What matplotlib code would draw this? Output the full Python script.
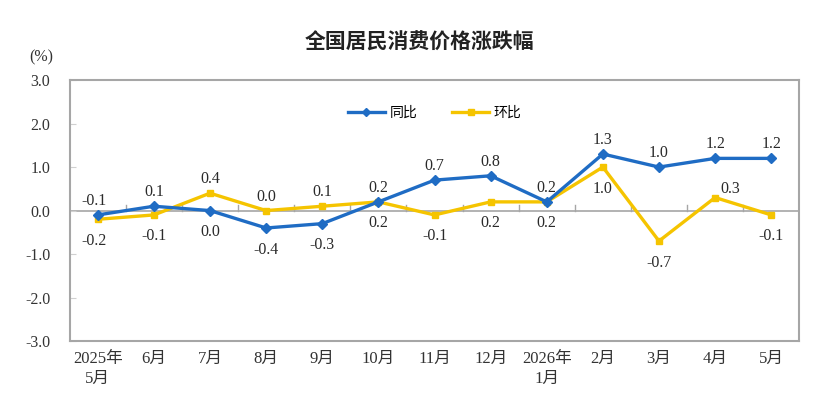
import numpy as np
import matplotlib.pyplot as plt

plt.rcParams['font.family'] = ['Liberation Serif', 'Noto Sans CJK SC']

months = ["2025年\n5月", "6月", "7月", "8月", "9月", "10月", "11月", "12月",
          "2026年\n1月", "2月", "3月", "4月", "5月"]
yoy = [-0.1, 0.1, 0.0, -0.4, -0.3, 0.2, 0.7, 0.8, 0.2, 1.3, 1.0, 1.2, 1.2]
mom = [-0.2, -0.1, 0.4, 0.0, 0.1, 0.2, -0.1, 0.2, 0.2, 1.0, -0.7, 0.3, -0.1]
# label placement: +1 above the point, -1 below
yoy_pos = [1, 1, -1, -1, -1, 1, 1, 1, 1, 1, 1, 1, 1]
mom_pos = [-1, -1, 1, 1, 1, -1, -1, -1, -1, -1, -1, 1, -1]

blue = '#1F6CC4'
yellow = '#F5C400'
grey = '#A6A6A6'
txt = '#2a2a2a'

fig = plt.figure(figsize=(8.3, 4.17), dpi=100)
ax = fig.add_axes([0.084, 0.182, 0.879, 0.626])
x = np.arange(len(months))

ax.axhline(0, color=grey, lw=1.2, zorder=1)
for b in np.arange(0.5, len(months) - 1, 1):
    ax.plot([b, b], [0, 0.12], color=grey, lw=1.0, zorder=1)

ax.plot(x, yoy, color=blue, lw=2.4, marker='D', ms=5, label='同比', zorder=3)
ax.plot(x, mom, color=yellow, lw=2.4, marker='s', ms=5, label='环比', zorder=2)


def offset(pos, i, series):
    if pos > 0:
        dy = 10
    else:
        dy = -15.5
    dx = -3 if i == 0 else 0
    if series == 'mom' and i == 11:
        dx, dy = 11, 6
    return dx, dy


for i in x:
    dx, dy = offset(yoy_pos[i], i, 'yoy')
    ax.annotate(f"{yoy[i]:.1f}", (i, yoy[i]), xytext=(dx, dy),
                textcoords='offset points', ha='center', va='center',
                fontsize=11.5, color=txt)
    dx, dy = offset(mom_pos[i], i, 'mom')
    ax.annotate(f"{mom[i]:.1f}", (i, mom[i]), xytext=(dx, dy),
                textcoords='offset points', ha='center', va='center',
                fontsize=11.5, color=txt)

ax.set_xlim(-0.5, len(months) - 0.5)
ax.set_ylim(-3, 3)
ax.set_yticks(np.arange(-3, 3.1, 1))
ax.set_yticklabels([f"{v:.1f}" for v in np.arange(-3, 3.1, 1)],
                   fontsize=11.5, color='#333333')
ax.tick_params(axis='y', direction='in', length=4, color='#d0d0d0', pad=14)
ax.set_xticks(x)
ax.set_xticklabels(months, fontsize=12, color='#333333', linespacing=1.3,
                   ha='center', multialignment='center')
ax.tick_params(axis='x', length=0, pad=7)
for s in ax.spines.values():
    s.set_color(grey)
    s.set_linewidth(1.5)

ax.legend(loc='center', bbox_to_anchor=(0.50, 0.873), ncol=2, frameon=False,
          handlelength=2.7, columnspacing=2.5, handletextpad=0.3, markerscale=0.8,
          prop={'family': ['Noto Sans CJK SC'], 'size': 10})

fig.text(0.05, 0.863, "(%)", fontsize=11.5, ha='center', va='center', color='#333333')
fig.text(0.505, 0.899, "全国居民消费价格涨跌幅", fontsize=15, ha='center', va='center',
         family=['Noto Sans CJK SC'], weight='bold', color='#222222')

fig.savefig('out.png', dpi=100)
